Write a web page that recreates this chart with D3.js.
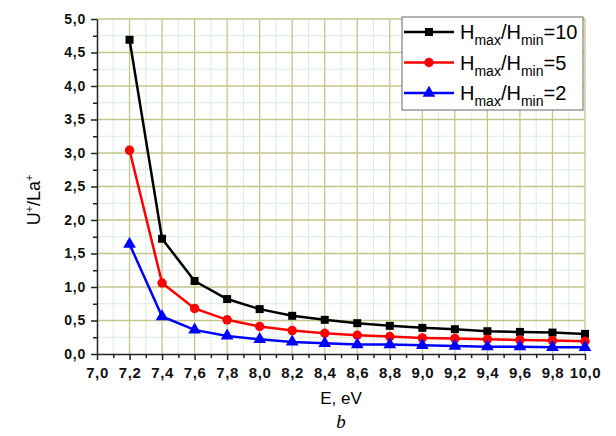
<!DOCTYPE html>
<html>
<head>
<meta charset="utf-8">
<script src="https://cdn.jsdelivr.net/npm/d3@7"></script>
<style>
  body { margin: 0; background: #fff; }
  svg { display: block; }
</style>
</head>
<body>
<script>
// data
var energy = [7.2, 7.4, 7.6, 7.8, 8.0, 8.2, 8.4, 8.6, 8.8, 9.0, 9.2, 9.4, 9.6, 9.8, 10.0];
var ratio10 = [4.69, 1.72, 1.09, 0.82, 0.67, 0.57, 0.51, 0.46, 0.42, 0.39, 0.37, 0.34, 0.33, 0.32, 0.30];
var ratio5  = [3.04, 1.06, 0.68, 0.51, 0.41, 0.35, 0.31, 0.28, 0.26, 0.24, 0.23, 0.22, 0.21, 0.20, 0.19];
var ratio2  = [1.64, 0.56, 0.36, 0.27, 0.22, 0.18, 0.16, 0.14, 0.14, 0.13, 0.12, 0.11, 0.11, 0.10, 0.10];
var seriesNames = ["10", "5", "2"];
var xTicks = [7.0, 7.2, 7.4, 7.6, 7.8, 8.0, 8.2, 8.4, 8.6, 8.8, 9.0, 9.2, 9.4, 9.6, 9.8, 10.0];
var yTicks = [0.0, 0.5, 1.0, 1.5, 2.0, 2.5, 3.0, 3.5, 4.0, 4.5, 5.0];

var margin = {top: 19, right: 31, bottom: 82, left: 97},
    W = 616, H = 436,
    width = W - margin.left - margin.right,
    height = H - margin.top - margin.bottom;

var colors = ["#000000", "#ff0000", "#0000ff"];
var symbols = [d3.symbolSquare, d3.symbolCircle, d3.symbolTriangle];
var symSizes = [64, 70, 70];

var x = d3.scaleLinear().domain([7, 10]).range([0, width]);
var y = d3.scaleLinear().domain([0, 5]).range([height, 0]);

var comma = function(v) { return d3.format(".1f")(v).replace(".", ","); };

var svg = d3.select("body").append("svg")
    .attr("width", W)
    .attr("height", H)
  .append("g")
    .attr("transform", "translate(" + margin.left + "," + margin.top + ")");

// minor grid
var xMinor = d3.range(7.1, 10, 0.2);
var yMinor = d3.range(0.25, 5, 0.5);
svg.append("g").selectAll("line").data(xMinor).enter().append("line")
    .attr("x1", function(d) { return x(d); }).attr("x2", function(d) { return x(d); })
    .attr("y1", 0).attr("y2", height)
    .attr("stroke", "#d8eedf").attr("stroke-width", 1);
svg.append("g").selectAll("line").data(yMinor).enter().append("line")
    .attr("y1", function(d) { return y(d); }).attr("y2", function(d) { return y(d); })
    .attr("x1", 0).attr("x2", width)
    .attr("stroke", "#d8eedf").attr("stroke-width", 1);

// major grid
svg.append("g").selectAll("line").data(xTicks.slice(1)).enter().append("line")
    .attr("x1", function(d) { return x(d); }).attr("x2", function(d) { return x(d); })
    .attr("y1", 0).attr("y2", height)
    .attr("stroke", "#c6c58a").attr("stroke-width", 1.3);
svg.append("g").selectAll("line").data(yTicks.slice(1)).enter().append("line")
    .attr("y1", function(d) { return y(d); }).attr("y2", function(d) { return y(d); })
    .attr("x1", 0).attr("x2", width)
    .attr("stroke", "#c6c58a").attr("stroke-width", 1.3);

// axes
var xAxis = svg.append("g")
    .attr("transform", "translate(0," + height + ")")
    .call(d3.axisBottom(x).tickValues(xTicks).tickFormat(comma).tickSize(6).tickSizeOuter(0));
svg.append("g")
    .attr("transform", "translate(0," + height + ")")
    .call(d3.axisBottom(x).tickValues(xMinor).tickFormat("").tickSize(4).tickSizeOuter(0))
    .select(".domain").remove();

var yAxis = svg.append("g")
    .call(d3.axisLeft(y).tickValues(yTicks).tickFormat(comma).tickSize(6).tickSizeOuter(0));
svg.append("g")
    .call(d3.axisLeft(y).tickValues(yMinor).tickFormat("").tickSize(4).tickSizeOuter(0))
    .select(".domain").remove();

svg.selectAll(".domain, .tick line").attr("stroke", "#222").attr("stroke-width", 1.5);

xAxis.selectAll("text")
    .attr("dy", "1.0em")
    .style("font-family", "'Liberation Sans', Arial, sans-serif")
    .style("font-weight", "bold")
    .style("font-size", "15px")
    .style("letter-spacing", "0.6px")
    .attr("fill", "#111");
yAxis.selectAll("text")
    .attr("x", -11)
    .style("font-family", "'Liberation Sans', Arial, sans-serif")
    .style("font-weight", "bold")
    .style("font-size", "14px")
    .style("letter-spacing", "0.8px")
    .attr("fill", "#111");

// axis titles
svg.append("text")
    .attr("x", width / 2).attr("y", height + 50)
    .attr("text-anchor", "middle")
    .style("font-family", "'Liberation Sans', Arial, sans-serif")
    .style("font-size", "17px")
    .text("E, eV");

var yt = svg.append("text")
    .attr("transform", "translate(" + (-57) + "," + (y(2.3)) + ") rotate(-90)")
    .attr("text-anchor", "middle")
    .style("font-family", "'Liberation Sans', Arial, sans-serif")
    .style("font-size", "18px");
yt.append("tspan").text("U");
yt.append("tspan").attr("dy", -7).style("font-size", "11px").text("+");
yt.append("tspan").attr("dy", 7).text("/La");
yt.append("tspan").attr("dy", -7).style("font-size", "11px").text("+");

svg.append("text")
    .attr("x", width / 2).attr("y", height + 74)
    .attr("text-anchor", "middle")
    .style("font-family", "'Liberation Serif', 'Times New Roman', serif")
    .style("font-style", "italic")
    .style("font-size", "19px")
    .text("b");

// series
var allSeries = [ratio10, ratio5, ratio2];
var line = d3.line()
    .x(function(d, i) { return x(energy[i]); })
    .y(function(d) { return y(d); });

allSeries.forEach(function(vals, k) {
  svg.append("path")
      .datum(vals)
      .attr("d", line)
      .attr("fill", "none")
      .attr("stroke", colors[k])
      .attr("stroke-width", 2.5);
  svg.append("g").selectAll("path").data(vals).enter().append("path")
      .attr("transform", function(d, i) { return "translate(" + x(energy[i]) + "," + y(d) + ")"; })
      .attr("d", d3.symbol().type(symbols[k]).size(symSizes[k]))
      .attr("fill", colors[k]);
});

// legend
var lg = svg.append("g").attr("transform", "translate(" + (402 - margin.left) + "," + (17 - margin.top) + ")");
lg.append("rect")
    .attr("width", 181).attr("height", 93)
    .attr("fill", "#fff").attr("stroke", "#666").attr("stroke-width", 1);

seriesNames.forEach(function(name, k) {
  var row = lg.append("g").attr("transform", "translate(0," + (15 + k * 30.5) + ")");
  row.append("line")
      .attr("x1", 2).attr("x2", 52)
      .attr("stroke", colors[k]).attr("stroke-width", 2.5);
  row.append("path")
      .attr("transform", "translate(27,0)")
      .attr("d", d3.symbol().type(symbols[k]).size(symSizes[k]))
      .attr("fill", colors[k]);
  var t = row.append("text")
      .attr("x", 58).attr("y", 7)
      .style("font-family", "'Liberation Sans', Arial, sans-serif")
      .style("font-size", "20px");
  t.append("tspan").text("H");
  t.append("tspan").attr("dy", 6).style("font-size", "14px").text("max");
  t.append("tspan").attr("dy", -6).text("/H");
  t.append("tspan").attr("dy", 6).style("font-size", "14px").text("min");
  t.append("tspan").attr("dy", -6).text("=" + name);
});
</script>
</body>
</html>
